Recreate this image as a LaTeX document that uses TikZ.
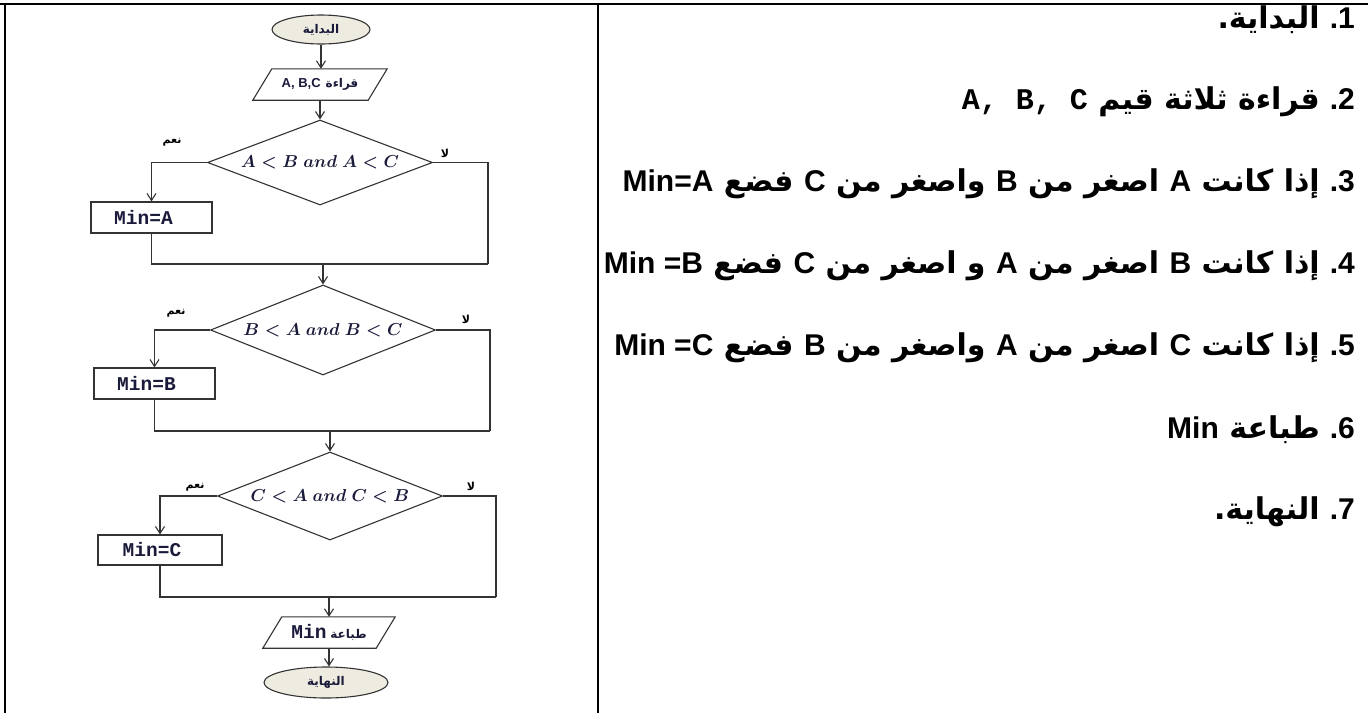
\documentclass[tikz,border=0pt]{standalone}
\usepackage{fontspec}
\usetikzlibrary{shapes.geometric,arrows.meta,calc}
\TeXXeTstate=1
\newfontfamily\arabicfont[Script=Arabic]{DejaVu Sans}
\newfontfamily\latfont{Liberation Sans}
\newfontfamily\monofont{Liberation Mono}
\definecolor{flowline}{HTML}{333333}
\definecolor{termfill}{HTML}{EEECE1}
\definecolor{flowtext}{HTML}{1A1A3A}
\newcommand\lat[1]{{\latfont\bfseries #1}}
\newcommand\cond[1]{{\fontsize{17}{19}\selectfont\color{flowtext}\boldmath$#1$}}
\newcommand\boxtxt[1]{{\monofont\bfseries\fontsize{19.5}{21}\selectfont\color{flowtext}#1}}
\newcommand\artxt[1]{{\arabicfont\bfseries\fontsize{12}{14}\selectfont\color{flowtext}\beginR #1\endR}}
\tikzset{
  flow/.style={draw=flowline, line width=1.1pt},
  term/.style={flow, ellipse, fill=termfill, inner sep=0pt},
  decide/.style={flow, diamond, aspect=2.6, inner sep=0pt, minimum width=225pt},
  proc/.style={flow, rectangle, inner sep=0pt, minimum width=121pt, minimum height=31pt},
  iobox/.style={inner sep=0pt, minimum width=115pt, minimum height=31pt},
  arr/.style={flow, -{Straight Barb[length=7pt,width=9pt]}},
  wire/.style={flow},
  lbl/.style={font=\arabicfont\bfseries\fontsize{11}{13}\selectfont, inner sep=0pt},
  stepline/.style={anchor=east, inner sep=0pt, font=\arabicfont\bfseries\fontsize{30}{34}\selectfont},
  rule/.style={draw=black, line width=1.6pt}
}
\newcommand\lt[1]{{\latfont\bfseries\fontsize{30}{34}\selectfont #1}}
\begin{document}
\begin{tikzpicture}[x=1pt, y=-1pt]
\useasboundingbox (0,0) rectangle (1368,713);
\fill[white] (0,0) rectangle (1368,713);

% table frame
\draw[rule] (0,4) -- (1368,4);
\draw[rule] (5,4) -- (5,713);
\draw[rule] (598,4) -- (598,713);

% flowchart nodes
\node[term, minimum width=98pt, minimum height=29pt] (start) at (321,29.5) {\artxt{البداية}};
\node[iobox] (rd) at (320,84.5)
  {\lat{\color{flowtext}\fontsize{13}{15}\selectfont A, B,C}\hspace{5pt}\artxt{قراءة}};
\node[decide, minimum height=85pt] (d1) at (320,162.5) {\cond{A < B\ and\ A < C}};
\node[proc] (ba) at (151.5,217.5) {\hspace*{-16pt}\boxtxt{Min=A}};
\node[decide, minimum height=90pt] (d2) at (323,330) {\cond{B < A\ and\ B < C}};
\node[proc] (bb) at (154.5,383.5) {\hspace*{-16pt}\boxtxt{Min=B}};
\node[decide, minimum height=88pt] (d3) at (330,496) {\cond{C < A\ and\ C < B}};
\node[proc, minimum width=124pt, minimum height=30pt] (bc) at (160,550) {\hspace*{-16pt}\boxtxt{Min=C}};
\node[iobox, minimum width=113pt] (pr) at (329,632.5)
  {\boxtxt{Min}\hspace{4pt}\artxt{طباعة}};
\node[term, minimum width=124pt, minimum height=31pt] (stop) at (326,682.5) {\artxt{النهاية}};

% input/output parallelograms around their text nodes
\draw[flow] ([xshift=9.5pt]rd.north west) -- ([xshift=9.5pt]rd.north east)
  -- ([xshift=-9.5pt]rd.south east) -- ([xshift=-9.5pt]rd.south west) -- cycle;
\draw[flow] ([xshift=9.5pt]pr.north west) -- ([xshift=9.5pt]pr.north east)
  -- ([xshift=-9.5pt]pr.south east) -- ([xshift=-9.5pt]pr.south west) -- cycle;

% merge points
\coordinate (j1) at (488,264);
\coordinate (j2) at (490,431);
\coordinate (j3) at (496,597);

% connectors
\draw[arr] (start.south) -- (start.south |- rd.north);
\draw[arr] (rd.south) -- (rd.south |- d1.north);
\draw[arr] (d1.west) -| (ba.north);
\draw[wire] (d1.east) -| (j1);
\draw[wire] (ba.south) |- (j1);
\draw[arr] (d2.north |- j1) -- (d2.north);
\draw[arr] (d2.west) -| (bb.north);
\draw[wire] (d2.east) -| (j2);
\draw[wire] (bb.south) |- (j2);
\draw[arr] (d3.north |- j2) -- (d3.north);
\draw[arr] (d3.west) -| (bc.north);
\draw[wire] (d3.east) -| (j3);
\draw[wire] (bc.south) |- (j3);
\draw[arr] (pr.north |- j3) -- (pr.north);
\draw[arr] (pr.south) -- (pr.south |- stop.north);

% branch labels
\node[lbl] (y1) at (172,142) {\beginR نعم\endR};
\node[lbl] (n1) at (445,153) {\beginR لا\endR};
\node[lbl] (y2) at (176,313) {\beginR نعم\endR};
\node[lbl] (n2) at (466,319) {\beginR لا\endR};
\node[lbl] (y3) at (195,487) {\beginR نعم\endR};
\node[lbl] (n3) at (471,486) {\beginR لا\endR};

% algorithm steps
\node[stepline] (s1) at (1355,20)
  {\beginR البداية{}.\endR\hspace{10pt}\lt{.1}};
\node[stepline] (s2) at (1355,102)
  {\beginR قراءة ثلاثة قيم \beginL{\monofont\bfseries A,\ B,\ C}\endL\endR\hspace{10pt}\lt{.2}};
\node[stepline] (s3) at (1355,184)
  {\beginR إذا كانت \lt{A} اصغر من \lt{B} واصغر من \lt{C} فضع \lt{Min=A}\endR\hspace{10pt}\lt{.3}};
\node[stepline] (s4) at (1355,266)
  {\beginR إذا كانت \lt{B} اصغر من \lt{A} و اصغر من \lt{C} فضع \beginL\lt{Min =B}\endL\endR\hspace{10pt}\lt{.4}};
\node[stepline] (s5) at (1355,348)
  {\beginR إذا كانت \lt{C} اصغر من \lt{A} واصغر من \lt{B} فضع \beginL\lt{Min =C}\endL\endR\hspace{10pt}\lt{.5}};
\node[stepline] (s6) at (1355,430)
  {\beginR طباعة \lt{Min}\endR\hspace{10pt}\lt{.6}};
\node[stepline] (s7) at (1355,512)
  {\beginR النهاية{}.\endR\hspace{10pt}\lt{.7}};
\end{tikzpicture}
\end{document}
